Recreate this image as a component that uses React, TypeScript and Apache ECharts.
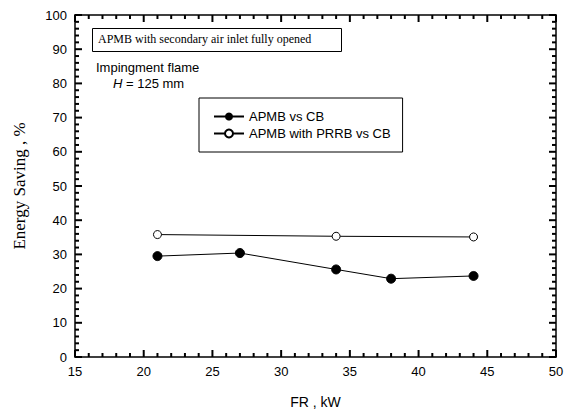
import React, { useEffect, useRef } from "react";
import * as echarts from "echarts";

const apmbX = [21, 27, 34, 38, 44];
const apmbY = [29.5, 30.4, 25.6, 22.9, 23.7];
const prrbX = [21, 34, 44];
const prrbY = [35.8, 35.3, 35.1];
const seriesNames = ["APMB vs CB", "APMB with PRRB vs CB"];
const boxText = "APMB with secondary air inlet fully opened";
const xMajorTicks = [15, 20, 25, 30, 35, 40, 45, 50];
const yMajorTicks = [0, 10, 20, 30, 40, 50, 60, 70, 80, 90, 100];

const X_MIN = 15, X_MAX = 50, Y_MIN = 0, Y_MAX = 100;
const SANS = "Liberation Sans, Arial, sans-serif";
const SERIF = "Liberation Serif, Times New Roman, serif";

// tick marks: [value, kind] kind 0 = x major, 1 = x minor, 2 = y major, 3 = y minor
const tickItems: number[][] = [];
for (let v = X_MIN; v <= X_MAX; v += 1) tickItems.push([v, xMajorTicks.includes(v) ? 0 : 1]);
for (let v = Y_MIN; v <= Y_MAX; v += 2) tickItems.push([v, yMajorTicks.includes(v) ? 2 : 3]);

const parts = () => ({
  axisLine: { show: true, onZero: false, lineStyle: { color: "#000", width: 1.5 } },
  axisTick: { show: false },
  splitLine: { show: false },
});

export default function App() {
  const ref = useRef<HTMLDivElement>(null);
  useEffect(() => {
    const chart = echarts.init(ref.current!, null, { renderer: "svg" });
    const tickStyle = { stroke: "#000", lineWidth: 2 };
    chart.setOption({
      animation: false,
      grid: { left: 75, right: 13, top: 15, bottom: 54 },
      xAxis: [
        {
          type: "value", min: X_MIN, max: X_MAX, interval: 5, position: "bottom",
          name: "FR , kW", nameLocation: "middle", nameGap: 38,
          nameTextStyle: { fontFamily: SANS, fontSize: 14, color: "#000" },
          axisLabel: { fontFamily: SANS, fontSize: 13, color: "#000", margin: 8 },
          ...parts(),
        },
        {
          type: "value", min: X_MIN, max: X_MAX, interval: 5, position: "top",
          axisLabel: { show: false },
          ...parts(),
        },
      ],
      yAxis: [
        {
          type: "value", min: Y_MIN, max: Y_MAX, interval: 10, position: "left",
          name: "Energy Saving , %", nameLocation: "middle", nameGap: 47,
          nameTextStyle: { fontFamily: SERIF, fontSize: 17, color: "#000" },
          axisLabel: { fontFamily: SANS, fontSize: 13, color: "#000", margin: 8 },
          ...parts(),
        },
        {
          type: "value", min: Y_MIN, max: Y_MAX, interval: 10, position: "right",
          axisLabel: { show: false },
          ...parts(),
        },
      ],
      legend: {
        orient: "vertical",
        left: 199, top: 98,
        padding: [12, 12, 12, 14],
        itemGap: 4,
        itemWidth: 30, itemHeight: 10,
        borderColor: "#000", borderWidth: 1,
        textStyle: { fontFamily: SANS, fontSize: 13, color: "#000" },
        data: seriesNames,
      },
      series: [
        {
          name: seriesNames[0], type: "line",
          data: apmbX.map((x, i) => [x, apmbY[i]]),
          symbol: "circle", symbolSize: 9,
          lineStyle: { color: "#000", width: 1 },
          itemStyle: { color: "#000", borderColor: "#000" },
          z: 5,
        },
        {
          name: seriesNames[1], type: "line",
          data: prrbX.map((x, i) => [x, prrbY[i]]),
          symbol: "circle", symbolSize: 8,
          lineStyle: { color: "#000", width: 1 },
          itemStyle: { color: "#fff", borderColor: "#000", borderWidth: 1 },
          z: 5,
        },
        {
          name: "ticks", type: "custom", silent: true, clip: false, z: 10,
          data: tickItems,
          renderItem: (_params: any, api: any) => {
            const v = api.value(0);
            const kind = api.value(1);
            if (kind === 0 || kind === 1) {
              const len = kind === 0 ? 7 : 4;
              const pb = api.coord([v, Y_MIN]);
              const pt = api.coord([v, Y_MAX]);
              return {
                type: "group",
                children: [
                  { type: "line", shape: { x1: pb[0], y1: pb[1], x2: pb[0], y2: pb[1] - len }, style: tickStyle },
                  { type: "line", shape: { x1: pt[0], y1: pt[1], x2: pt[0], y2: pt[1] + len }, style: tickStyle },
                ],
              };
            }
            const len = kind === 2 ? 7 : 4;
            const pl = api.coord([X_MIN, v]);
            const pr = api.coord([X_MAX, v]);
            return {
              type: "group",
              children: [
                { type: "line", shape: { x1: pl[0], y1: pl[1], x2: pl[0] + len, y2: pl[1] }, style: tickStyle },
                { type: "line", shape: { x1: pr[0], y1: pr[1], x2: pr[0] - len, y2: pr[1] }, style: tickStyle },
              ],
            };
          },
        },
      ],
      graphic: [
        {
          type: "rect", left: 92, top: 28,
          shape: { width: 249, height: 23 },
          style: { fill: "#fff", stroke: "#000", lineWidth: 1 },
        },
        {
          type: "text", left: 98, top: 33,
          style: { text: boxText, font: `12px ${SERIF}`, fill: "#000" },
        },
        {
          type: "text", left: 96, top: 61,
          style: { text: "Impingment flame", font: `13px ${SANS}`, fill: "#000" },
        },
        {
          type: "text", left: 113, top: 77,
          style: {
            text: "{i|H} = 125 mm",
            font: `13px ${SANS}`, fill: "#000",
            rich: { i: { fontStyle: "italic", fontFamily: SANS, fontSize: 13 } },
          },
        },
      ],
    });
    return () => chart.dispose();
  }, []);
  return <div ref={ref} style={{ width: 569, height: 414, position: "absolute", left: 0, top: 0 }} />;
}
